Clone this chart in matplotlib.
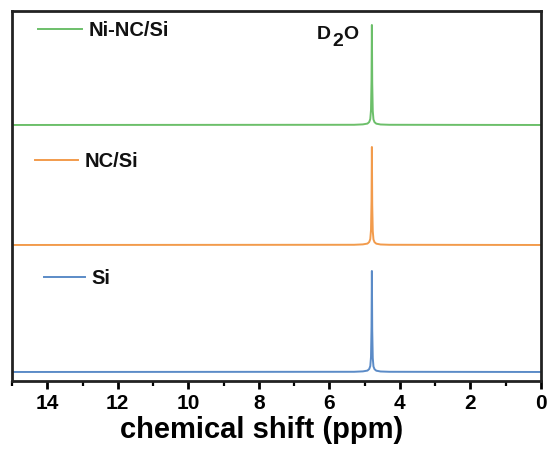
import numpy as np
import matplotlib
matplotlib.use("Agg")
import matplotlib.pyplot as plt
from matplotlib.ticker import MultipleLocator

plt.rcParams['font.family'] = ['Liberation Sans', 'DejaVu Sans']
plt.rcParams['font.weight'] = 'bold'

# 1H NMR spectra, chemical shift in ppm (sampled around the D2O line)
shift = [15.0, 5.30, 5.05, 4.92, 4.87, 4.84, 4.82, 4.805, 4.795, 4.785,
         4.77, 4.75, 4.72, 4.67, 4.55, 4.30, 0.0]
int_si = [0.0, 0.002, 0.006, 0.014, 0.03, 0.06, 0.15, 0.45, 1.01, 0.42,
          0.14, 0.055, 0.028, 0.013, 0.005, 0.002, 0.0]
int_nc_si = [0.0, 0.002, 0.006, 0.014, 0.03, 0.06, 0.15, 0.44, 0.98, 0.40,
             0.14, 0.055, 0.028, 0.013, 0.005, 0.002, 0.0]
int_ni_nc_si = [0.0, 0.002, 0.006, 0.014, 0.03, 0.06, 0.15, 0.45, 1.00, 0.42,
                0.14, 0.055, 0.028, 0.013, 0.005, 0.002, 0.0]

labels = ['Si', 'NC/Si', 'Ni-NC/Si']
offsets = [0.0, 1.27, 2.47]
colors = ['#5b8bc7', '#f29b4c', '#6cbf6a']

fig = plt.figure(figsize=(5.5, 4.52), dpi=100)
ax = fig.add_axes([0.0218, 0.1549, 0.9618, 0.8186])

for y, off, c in zip([int_si, int_nc_si, int_ni_nc_si], offsets, colors):
    ax.plot(shift, np.array(y) + off, color=c, lw=1.4)

ax.set_xlim(15, 0)
ax.set_ylim(-0.09, 3.61)
ax.set_yticks([])
ax.xaxis.set_major_locator(MultipleLocator(2))
ax.xaxis.set_minor_locator(MultipleLocator(1))
ax.tick_params(axis='x', which='major', direction='out', length=6, width=2,
               labelsize=15, pad=3)
ax.tick_params(axis='x', which='minor', direction='out', length=3.5, width=1.6)
for s in ax.spines.values():
    s.set_linewidth(2)
    s.set_color('#222222')
ax.set_xlabel('chemical shift (ppm)', fontsize=21, fontweight='bold', labelpad=2)
ax.xaxis.label.set_x(0.4726)

# hand-placed legend entries next to each trace
legend_pos = [(0.060, 0.138, 0.281), (0.043, 0.125, 0.597), (0.049, 0.132, 0.951)]
for (x0, x1, yy), lab, c in zip(legend_pos, labels, colors):
    ax.plot([x0, x1], [yy, yy], color=c, lw=1.4, transform=ax.transAxes)
    ax.text(x1 + 0.012, yy, lab, transform=ax.transAxes, fontsize=14.5,
            fontweight='bold', va='center', ha='left', color='#111111')

# D2O peak label with a full-size, lowered subscript
for x, y, t in [(0.5766, 0.938, 'D'), (0.6049, 0.919, '2'), (0.6257, 0.938, 'O')]:
    ax.text(x, y, t, transform=ax.transAxes, fontsize=14, fontweight='bold',
            ha='left', va='center', color='#111111')

fig.savefig('out.png', dpi=100)
